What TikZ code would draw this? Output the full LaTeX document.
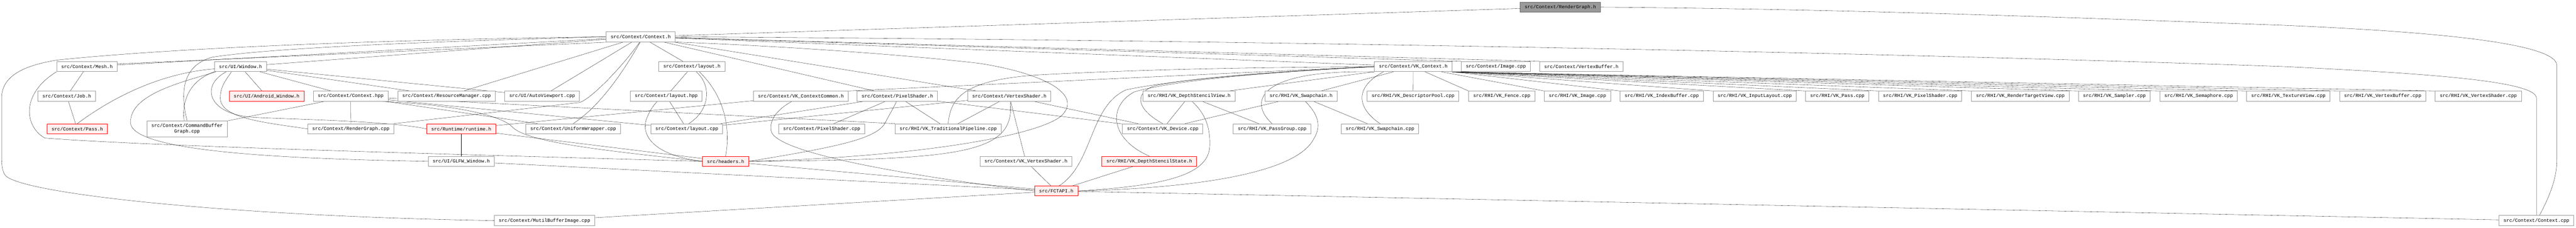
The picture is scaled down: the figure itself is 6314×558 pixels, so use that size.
\documentclass[tikz,border=0pt]{standalone}
\usepackage{fontspec}
\newfontfamily\dxmono{Liberation Mono}
\usetikzlibrary{arrows.meta,scopes}
\pgfdeclarelayer{back}
\pgfsetlayers{back,main}
\definecolor{edgeblue}{HTML}{63B8FF}
\definecolor{boxgrey}{HTML}{999999}
\definecolor{redfill}{HTML}{FFF0F0}
\definecolor{rootline}{HTML}{666666}
\begin{document}
\begin{tikzpicture}[x=1pt,y=-1pt,
    filebox/.style={draw=boxgrey,fill=white,line width=1.2pt,inner xsep=11pt,inner ysep=0pt,minimum height=24.5pt,font=\dxmono\fontsize{11.67pt}{14pt}\selectfont},
    redbox/.style={filebox,draw=red,fill=redfill},
    rootbox/.style={filebox,draw=rootline,fill=boxgrey},
    inc/.style={draw=edgeblue,line width=1pt,-{Triangle[length=11pt,width=9pt]}}
]
    \useasboundingbox (0,0) rectangle (6314,558);
    \node[rootbox] (rgh) at (3824.5,17.5) {src/Context/RenderGraph.h};
    \node[filebox] (ctxh) at (1570.5,90) {src/Context/Context.h};
    \node[filebox] (mesh) at (213,163) {src/Context/Mesh.h};
    \node[filebox] (window) at (589.5,163) {src/UI/Window.h};
    \node[filebox] (layouth) at (1696,163) {src/Context/layout.h};
    \node[filebox] (vkctxh) at (3464,163) {src/Context/VK\_Context.h};
    \node[filebox] (imagecpp) at (3666.5,163) {src/Context/Image.cpp};
    \node[filebox] (vbufh) at (3876,163) {src/Context/VertexBuffer.h};
    \node[filebox] (job) at (163.5,235.5) {src/Context/Job.h};
    \node[redbox] (android) at (653.5,235.5) {src/UI/Android\_Window.h};
    \node[filebox] (ctxhpp) at (859.5,235.5) {src/Context/Context.hpp};
    \node[filebox] (resmgr) at (1094.5,235.5) {src/Context/ResourceManager.cpp};
    \node[filebox] (autovp) at (1329,235.5) {src/UI/AutoViewport.cpp};
    \node[filebox] (layouthpp) at (1633,235.5) {src/Context/layout.hpp};
    \node[filebox] (vkcommon) at (1963,235.5) {src/Context/VK\_ContextCommon.h};
    \node[filebox] (psh) at (2199.5,235.5) {src/Context/PixelShader.h};
    \node[filebox] (vsh) at (2474,235.5) {src/Context/VertexShader.h};
    \node[filebox] (dsv) at (2914.5,235.5) {src/RHI/VK\_DepthStencilView.h};
    \node[filebox] (swaph) at (3189,235.5) {src/RHI/VK\_Swapchain.h};
    \node[filebox] (descpool) at (3463.5,235.5) {src/RHI/VK\_DescriptorPool.cpp};
    \foreach \n/\x/\t in {fence/3681/Fence,vkimage/3866.5/Image,indexbuf/4073/IndexBuffer,inputlayout/4301/InputLayout,vkpass/4503.5/Pass,vkps/4706.5/PixelShader,rtv/4952/RenderTargetView,sampler/5182.5/Sampler,semaphore/5389/Semaphore,texview/5609/TextureView,vkvb/5840/VertexBuffer,vkvscpp/6074.5/VertexShader}
        \node[filebox] (\n) at (\x,235.5) {src/RHI/VK\_\t.cpp};
    \node[redbox] (pass) at (189.5,315.5) {src/Context/Pass.h};
    \node[filebox,align=center,minimum height=39pt] (cbg) at (458.5,315.5) {src/Context/CommandBuffer\\Graph.cpp};
    \node[filebox] (rgcpp) at (860,315.5) {src/Context/RenderGraph.cpp};
    \node[redbox] (runtime) at (1130.5,315.5) {src/Runtime/runtime.h};
    \node[filebox] (uniform) at (1405,315.5) {src/Context/UniformWrapper.cpp};
    \node[filebox] (layoutcpp) at (1683.5,315.5) {src/Context/layout.cpp};
    \node[filebox] (pscpp) at (2014,315.5) {src/Context/PixelShader.cpp};
    \node[filebox] (tradpipe) at (2324,315.5) {src/RHI/VK\_TraditionalPipeline.cpp};
    \node[filebox] (device) at (2850,315.5) {src/Context/VK\_Device.cpp};
    \node[filebox] (passgroup) at (3118,315.5) {src/RHI/VK\_PassGroup.cpp};
    \node[filebox] (swapcpp) at (3382.5,315.5) {src/RHI/VK\_Swapchain.cpp};
    \node[filebox] (glfw) at (1130.5,395) {src/UI/GLFW\_Window.h};
    \node[redbox] (headers) at (1778.5,395) {src/headers.h};
    \node[filebox] (vkvsh) at (2514.5,395) {src/Context/VK\_VertexShader.h};
    \node[redbox] (dss) at (2817,395) {src/RHI/VK\_DepthStencilState.h};
    \node[redbox] (fctapi) at (2589,467.5) {src/FCTAPI.h};
    \node[filebox] (mbi) at (1334.6,540) {src/Context/MutilBufferImage.cpp};
    \node[filebox] (ctxcpp) at (6217,540) {src/Context/Context.cpp};
    \begin{pgfonlayer}{back}
    {[inc]
        \draw (ctxh) -- (rgh);
        \draw (ctxcpp.60) .. controls (6255,470) and (6267,430) .. (6267,390) -- (6267,160) .. controls (6267,100) and (5900,75) .. (5600,62) .. controls (5000,40) and (4500,22) .. (rgh.east);
        \draw (ctxcpp.north) -- (6217,240) .. controls (6217,195) and (5900,178) .. (5600,163) .. controls (4500,125) and (3000,98) .. (ctxh.east);
        \draw (ctxcpp) -- (fctapi);
        \draw (mbi) -- (fctapi);
        \draw (mbi.west) .. controls (600,530) and (100,480) .. (20,435) .. controls (6,427) and (4,410) .. (4,380) -- (4,240) .. controls (4,185) and (60,160) .. (140,147) .. controls (500,110) and (1100,95) .. (ctxh.west);
        \draw (mesh) -- (ctxh);
        \draw (ctxh.-170) -- (mesh.5);
        \draw (window) -- (ctxh);
        \draw (cbg.north) .. controls (440,220) and (450,160) .. (520,140) .. controls (700,112) and (1200,98) .. (ctxh.west);
        \draw (resmgr) -- (ctxh);
        \draw (autovp) -- (ctxh);
        \draw (rgcpp.north east) -- (1420,251) .. controls (1445,245) and (1520,170) .. (ctxh.-100);
        \draw (uniform.north) .. controls (1470,260) and (1525,180) .. (ctxh.-95);
        \draw (layouth) -- (ctxh);
        \draw (vkctxh) -- (ctxh);
        \draw (imagecpp.north west) -- (ctxh);
        \draw (vbufh.north west) -- (ctxh);
        \draw (psh) -- (ctxh);
        \draw (vsh) -- (ctxh);
        \draw (headers.east) .. controls (2250,385) and (2560,330) .. (2605,280) .. controls (2650,230) and (2560,180) .. (2400,155) .. controls (2200,132) and (1900,112) .. (ctxh.south east);
        \draw (job) -- (mesh);
        \draw (pass) -- (job);
        \draw (headers.west) .. controls (1200,380) and (400,360) .. (110,338) .. controls (60,310) and (50,230) .. (mesh.south west);
        \draw (pass.north) .. controls (260,250) and (380,180) .. (window.-175);
        \draw (android) -- (window);
        \draw (ctxhpp) -- (window);
        \draw (resmgr) -- (window);
        \draw (autovp) -- (window);
        \draw (cbg.110) .. controls (445,240) and (470,195) .. (window.south west);
        \draw (rgcpp.west) .. controls (650,300) and (540,290) .. (540,240) .. controls (540,210) and (555,195) .. (window.-150);
        \draw (runtime.west) .. controls (950,295) and (700,292) .. (620,287) .. controls (510,280) and (490,210) .. (window.-160);
        \draw (glfw.west) .. controls (800,390) and (320,380) .. (320,300) .. controls (318,230) and (450,200) .. (window.-168);
        \draw (cbg) -- (ctxhpp);
        \draw (rgcpp) -- (ctxhpp);
        \draw (uniform) -- (ctxhpp);
        \draw (layoutcpp) -- (ctxhpp);
        \draw (tradpipe.north west) -- (ctxhpp);
        \draw (headers.west) .. controls (1500,370) and (1290,350) .. (1255,310) .. controls (1225,280) and (1100,255) .. (ctxhpp.-10);
        \draw (glfw) -- (runtime);
        \draw (headers) -- (runtime);
        \draw (runtime) -- (vkcommon);
        \draw (fctapi) -- (glfw);
        \draw (fctapi) -- (headers);
        \draw (fctapi) -- (vkvsh);
        \draw (fctapi) -- (dss);
        \draw (fctapi.west) .. controls (2300,440) and (1900,380) .. (1890,320) .. controls (1885,290) and (1910,265) .. (vkcommon.-150);
        \draw (fctapi.60) .. controls (2680,400) and (2670,260) .. (2760,220) .. controls (2900,190) and (3200,172) .. (vkctxh.west);
        \draw (fctapi.east) .. controls (2850,455) and (2960,430) .. (2965,360) .. controls (2968,300) and (2945,270) .. (dsv.-60);
        \draw (fctapi.east) .. controls (2950,460) and (3180,420) .. (3220,340) .. controls (3245,300) and (3220,270) .. (swaph.-50);
        \draw (layouthpp) -- (layouth);
        \draw (layoutcpp) -- (layouthpp);
        \draw (layoutcpp.70) .. controls (1740,270) and (1745,210) .. (layouth.-50);
        \draw (headers.west) .. controls (1600,380) and (1570,330) .. (1585,290) .. controls (1595,265) and (1605,255) .. (layouthpp.-150);
        \draw (headers.north) .. controls (1790,320) and (1780,240) .. (layouth.-35);
        \draw (layoutcpp) -- (psh);
        \draw (layoutcpp) -- (vsh);
        \draw (pscpp) -- (psh);
        \draw (tradpipe) -- (psh);
        \draw (tradpipe) -- (vsh);
        \draw (device) -- (psh);
        \draw (device) -- (vsh);
        \draw (vkvsh) -- (vsh);
        \draw (headers.east) .. controls (2050,360) and (2150,340) .. (2170,300) .. controls (2180,280) and (2190,265) .. (psh.-100);
        \draw (headers.east) .. controls (2350,390) and (2490,380) .. (vsh.-80);
        \draw (tradpipe.north) .. controls (2330,240) and (2360,195) .. (2550,183) .. controls (2900,165) and (3200,165) .. (vkctxh.west);
        \draw (vkcommon.north east) -- (vkctxh.west);
        \draw (dss.north) .. controls (2720,340) and (2715,260) .. (2780,225) .. controls (2900,190) and (3200,172) .. (vkctxh.west);
        \draw (device.north) .. controls (2790,270) and (2775,230) .. (2830,210) .. controls (2950,185) and (3200,172) .. (vkctxh.west);
        \draw (dsv) -- (vkctxh);
        \draw (swaph) -- (vkctxh);
        \draw (passgroup.north) .. controls (3060,250) and (3080,170) .. (vkctxh.south west);
        \draw (swapcpp.north) .. controls (3320,260) and (3325,210) .. (vkctxh.-170);
        \draw (descpool) -- (vkctxh);
        \draw (device) -- (dsv);
        \draw (device) -- (swaph);
        \draw (passgroup) -- (dsv);
        \draw (swapcpp) -- (swaph);
        \foreach \n in {fence,vkimage}
            \draw (\n.north west) -- (vkctxh);
        \foreach \n in {indexbuf,inputlayout,vkpass,vkps,rtv,sampler,semaphore,texview,vkvb,vkvscpp}
            \draw (\n.north west) -- (vkctxh.south east);
    }
    \end{pgfonlayer}
\end{tikzpicture}
\end{document}
